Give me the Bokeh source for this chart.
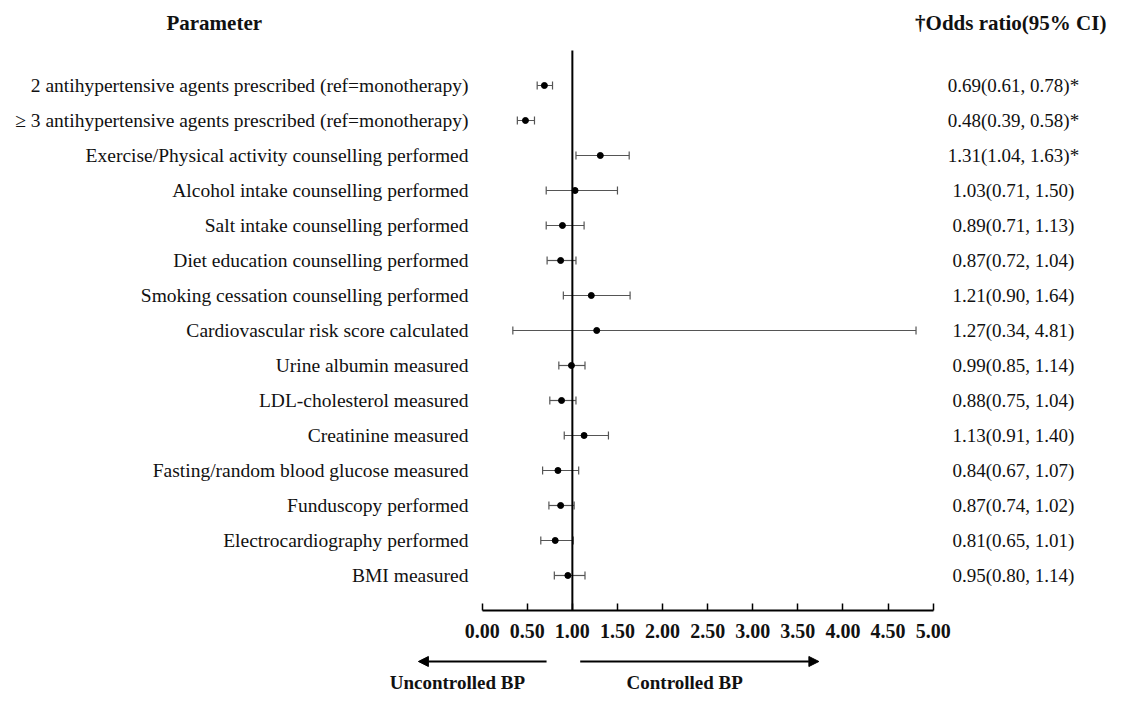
from bokeh.plotting import figure
from bokeh.models import (ColumnDataSource, Range1d, LinearAxis, FixedTicker,
                          PrintfTickFormatter, Whisker, TeeHead, Arrow, NormalHead)
from bokeh.core.properties import value
from bokeh.embed import file_html
from bokeh.resources import INLINE

# ---------------- data ----------------
params = [
    "2 antihypertensive agents prescribed (ref=monotherapy)",
    "\u2265 3 antihypertensive agents prescribed (ref=monotherapy)",
    "Exercise/Physical activity counselling performed",
    "Alcohol intake counselling performed",
    "Salt intake counselling performed",
    "Diet education counselling performed",
    "Smoking cessation counselling performed",
    "Cardiovascular risk score calculated",
    "Urine albumin measured",
    "LDL-cholesterol measured",
    "Creatinine measured",
    "Fasting/random blood glucose measured",
    "Funduscopy performed",
    "Electrocardiography performed",
    "BMI measured",
]
odds = [0.69, 0.48, 1.31, 1.03, 0.89, 0.87, 1.21, 1.27, 0.99, 0.88, 1.13, 0.84, 0.87, 0.81, 0.95]
ci_low = [0.61, 0.39, 1.04, 0.71, 0.71, 0.72, 0.90, 0.34, 0.85, 0.75, 0.91, 0.67, 0.74, 0.65, 0.80]
ci_high = [0.78, 0.58, 1.63, 1.50, 1.13, 1.04, 1.64, 4.81, 1.14, 1.04, 1.40, 1.07, 1.02, 1.01, 1.14]
significant = [True, True, True, False, False, False, False, False, False, False, False, False, False, False, False]
tick_values = [0.0, 0.5, 1.0, 1.5, 2.0, 2.5, 3.0, 3.5, 4.0, 4.5, 5.0]

rows = list(range(len(params)))
or_text = ["%.2f(%.2f, %.2f)%s" % (o, l, h, "*" if s else "")
           for o, l, h, s in zip(odds, ci_low, ci_high, significant)]

src = ColumnDataSource(dict(row=rows, param=params, odds=odds, lo=ci_low, hi=ci_high, ortext=or_text))

# ---------------- figure ----------------
W, H = 1109, 699
FONT = value("Liberation Serif")

p = figure(width=W, height=H, output_backend="svg", toolbar_location=None,
           x_axis_location=None, y_axis_location=None,
           x_range=Range1d(-5.340, 6.955), y_range=Range1d(17.543, -2.4286),
           min_border=0, outline_line_color=None, background_fill_color="white")
p.xgrid.visible = False
p.ygrid.visible = False

# reference line at OR = 1
p.segment(x0=[1.0], y0=[-1.0], x1=[1.0], y1=[15.0], line_color="black", line_width=2)

# confidence intervals
p.add_layout(Whisker(source=src, base="row", lower="lo", upper="hi", dimension="width",
                     line_color="#555555", line_width=1.2,
                     lower_head=TeeHead(size=8, line_color="#555555", line_width=1.2),
                     upper_head=TeeHead(size=8, line_color="#555555", line_width=1.2)))
p.scatter(x="odds", y="row", source=src, size=6, color="black")

# parameter labels
p.text(x=-0.152, y="row", text="param", source=src, text_align="right", text_baseline="middle",
       text_font=FONT, text_font_size="19.5px", text_color="#111111")
# odds-ratio column
p.text(x=5.89, y="row", text="ortext", source=src, text_align="center", text_baseline="middle",
       text_font=FONT, text_font_size="19px", text_color="#111111")

# headers
p.text(x=[-2.97], y=[-1.8], text=["Parameter"], text_align="center", text_baseline="middle",
       text_font=FONT, text_font_size="21px", text_font_style="bold", text_color="#111111")
p.text(x=[5.86], y=[-1.8], text=["\u2020Odds ratio(95% CI)"], text_align="center", text_baseline="middle",
       text_font=FONT, text_font_size="21px", text_font_style="bold", text_color="#111111")

# x axis
ax = LinearAxis(fixed_location=15.0, bounds=(0, 5),
                ticker=FixedTicker(ticks=tick_values),
                formatter=PrintfTickFormatter(format="%.2f"),
                axis_line_color="black", axis_line_width=2,
                major_tick_line_color="black", major_tick_line_width=1.5,
                major_tick_in=7, major_tick_out=0,
                minor_tick_in=0, minor_tick_out=0,
                major_label_standoff=14,
                major_label_text_font="Liberation Serif",
                major_label_text_font_size="20px",
                major_label_text_font_style="bold",
                major_label_text_color="#111111")
p.add_layout(ax, "below")

# direction arrows
p.add_layout(Arrow(end=NormalHead(size=10, fill_color="black", line_color="black"),
                   x_start=0.714, y_start=16.457, x_end=-0.707, y_end=16.457,
                   line_color="black", line_width=2))
p.add_layout(Arrow(end=NormalHead(size=10, fill_color="black", line_color="black"),
                   x_start=1.087, y_start=16.457, x_end=3.733, y_end=16.457,
                   line_color="black", line_width=2))
p.text(x=[-0.275, 2.245], y=[17.05, 17.05], text=["Uncontrolled BP", "Controlled BP"],
       text_align="center", text_baseline="middle",
       text_font=FONT, text_font_size="19px", text_font_style="bold", text_color="#111111")

open("out.html", "w").write(file_html(p, INLINE))
